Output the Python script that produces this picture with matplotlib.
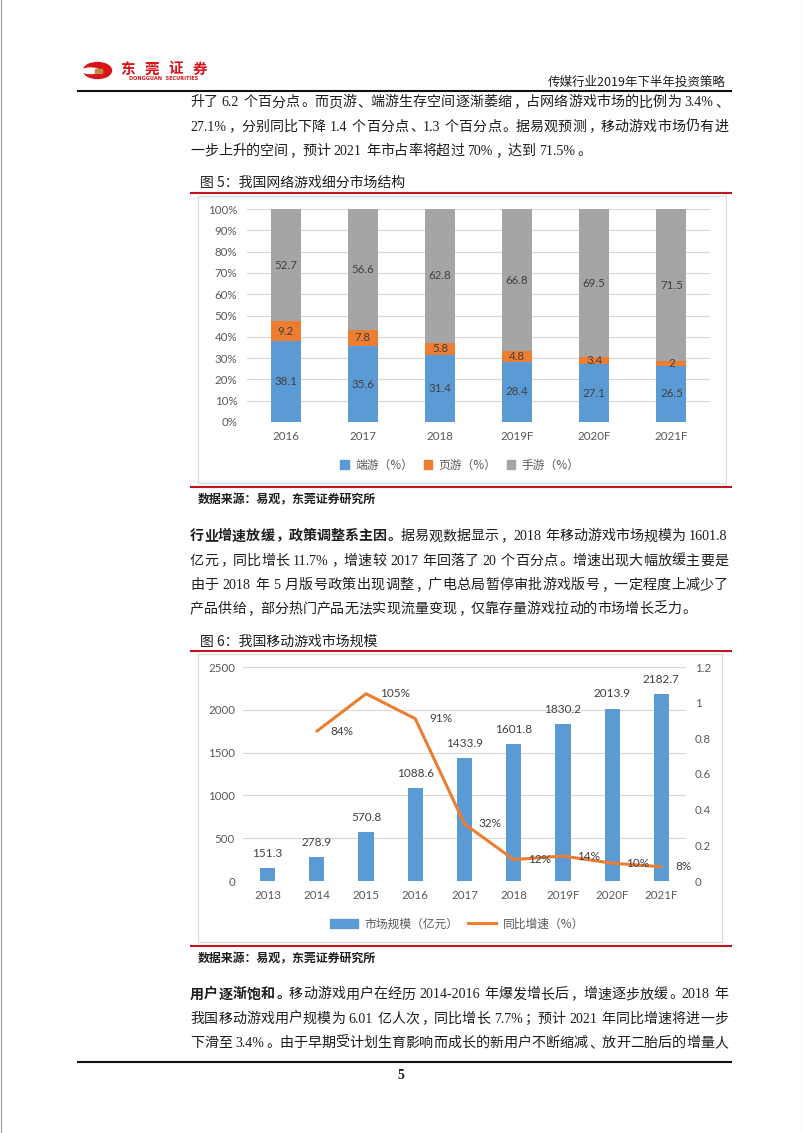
import matplotlib
matplotlib.use('Agg')
import matplotlib.pyplot as plt
import numpy as np
from matplotlib.font_manager import FontProperties
from matplotlib.patches import Rectangle, Ellipse, Patch
from matplotlib.lines import Line2D
from matplotlib.ticker import FuncFormatter

# ---------------- data ----------------
years1 = ['2016', '2017', '2018', '2019F', '2020F', '2021F']
duanyou = [38.1, 35.6, 31.4, 28.4, 27.1, 26.5]
yeyou = [9.2, 7.8, 5.8, 4.8, 3.4, 2]
shouyou = [52.7, 56.6, 62.8, 66.8, 69.5, 71.5]
legend1 = ['端游（%）', '页游（%）', '手游（%）']

years2 = ['2013', '2014', '2015', '2016', '2017', '2018', '2019F', '2020F', '2021F']
market = [151.3, 278.9, 570.8, 1088.6, 1433.9, 1601.8, 1830.2, 2013.9, 2182.7]
growth_years = ['2014', '2015', '2016', '2017', '2018', '2019F', '2020F', '2021F']
growth = [0.84, 1.05, 0.91, 0.32, 0.12, 0.14, 0.10, 0.08]
legend2 = ['市场规模（亿元）', '同比增速（%）']

para1 = [
    [("升了 6.2 个百分点。而页游、端游生存空间逐渐萎缩，占网络游戏市场的比例为 3.4%、", False)],
    [("27.1%，分别同比下降 1.4 个百分点、1.3 个百分点。据易观预测，移动游戏市场仍有进", False)],
    [("一步上升的空间，预计 2021 年市占率将超过 70%，达到 71.5%。", False)],
]
para2 = [
    [("行业增速放缓，政策调整系主因。", True), ("据易观数据显示，2018 年移动游戏市场规模为 1601.8", False)],
    [("亿元，同比增长 11.7%，增速较 2017 年回落了 20 个百分点。增速出现大幅放缓主要是", False)],
    [("由于 2018 年 5 月版号政策出现调整，广电总局暂停审批游戏版号，一定程度上减少了", False)],
    [("产品供给，部分热门产品无法实现流量变现，仅靠存量游戏拉动的市场增长乏力。", False)],
]
para3 = [
    [("用户逐渐饱和。", True), ("移动游戏用户在经历 2014-2016 年爆发增长后，增速逐步放缓。2018 年", False)],
    [("我国移动游戏用户规模为 6.01 亿人次，同比增长 7.7%；预计 2021 年同比增速将进一步", False)],
    [("下滑至 3.4%。由于早期受计划生育影响而成长的新用户不断缩减、放开二胎后的增量人", False)],
]

# ---------------- style ----------------
C_BLUE = '#5B9BD5'
C_ORANGE = '#ED7D31'
C_GRAY = '#A5A5A5'
C_RED = '#C0141E'
C_GRID = '#D9D9D9'
C_TICK = '#595959'
C_LAB = '#404040'
TXT = '#1e1e1e'
CJK = 'Noto Sans CJK SC'
SERIF = 'Liberation Serif'
NUM = 'Lato'
BODY_PT = 10.1

W, H = 802, 1133
fig = plt.figure(figsize=(W / 100, H / 100), dpi=100)
fig.patch.set_facecolor('white')
page = fig.add_axes([0, 0, 1, 1])
page.set_xlim(0, W)
page.set_ylim(H, 0)
page.axis('off')
renderer = fig.canvas.get_renderer()


def px(pt):
    return pt * 100 / 72


def hline(y, x0, x1, color, lw):
    page.plot([x0, x1], [y, y], color=color, lw=lw, solid_capstyle='butt')


def fp(latin, bold, size):
    return FontProperties(family=SERIF if latin else CJK,
                          weight='bold' if bold else 'normal', size=size)


def tokenize(segs):
    toks = []
    for s, bold in segs:
        run = ''
        for ch in s:
            if ch == ' ':
                if run:
                    toks.append((run, bold, True)); run = ''
                toks.append((' ', bold, None))
            elif ord(ch) < 128:
                run += ch
            else:
                if run:
                    toks.append((run, bold, True)); run = ''
                toks.append((ch, bold, False))
        if run:
            toks.append((run, bold, True))
    return toks


def tok_width(t, bold, latin, size):
    em = px(size)
    if latin is None:
        return 0.25 * em
    if latin is False:
        return em
    w, h, d = renderer.get_text_width_height_descent(t, fp(True, bold, size), ismath=False)
    return w + 0.04 * em


PUNCT_LEFT = '，。、；：！？'


def body_line(yc, segs, justify=True, x0=190, x1=728, size=BODY_PT):
    toks = tokenize(segs)
    ws = [tok_width(t, b, l, size) for t, b, l in toks]
    total = sum(ws)
    gap = (x1 - x0 - total) / (len(toks) - 1) if justify else 0.0
    em = px(size)
    yb = yc + 0.38 * em
    x = x0
    for (t, b, l), w in zip(toks, ws):
        if l is True:
            page.text(x, yb, t, fontproperties=fp(True, b, size), ha='left',
                      va='baseline', color=TXT)
        elif l is False:
            if t in PUNCT_LEFT:
                page.text(x + 0.1 * em, yb, t, fontproperties=fp(False, b, size),
                          ha='left', va='baseline', color=TXT)
            else:
                page.text(x + 0.5 * w, yb, t, fontproperties=fp(False, b, size),
                          ha='center', va='baseline', color=TXT)
        x += w + gap


def paragraph(y0, lines, last_justified=False, step=24.2):
    for i, segs in enumerate(lines):
        just = last_justified or i < len(lines) - 1
        body_line(y0 + i * step, segs, justify=just)


# ---------------- page frame / header ----------------
page.plot([0.5, 0.5], [0, H], color='#9a9a9a', lw=0.8)
page.plot([W - 0.5, W - 0.5], [0, H], color='#9a9a9a', lw=0.8)

page.add_patch(Ellipse((97.5, 70.5), 28, 16, color='#D7141A', zorder=3))
page.add_patch(Ellipse((90.5, 70.8), 17, 5.5, color='white', zorder=4))
page.add_patch(Rectangle((94.5, 68.6), 7, 4.2, color='#C08A3E', zorder=5))
for i, ch in enumerate('东莞证券'):
    page.text(127.5 + 24 * i, 68.5, ch, family=CJK, weight='bold', fontsize=10.5,
              color='#D7141A', ha='center', va='center')
page.text(163.5, 78, 'DONGGUAN  SECURITIES', family='DejaVu Sans', weight='bold',
          fontsize=3.6, color='#D7141A', ha='center', va='center')
page.text(726, 85.5, '传媒行业2019年下半年投资策略', family=CJK, fontsize=9,
          color=TXT, ha='right', va='baseline')
hline(90.5, 77, 732, '#111111', 1.5)

# ---------------- body text ----------------
paragraph(101, para1)
paragraph(535, para2)
paragraph(993, para3, last_justified=True)

# ---------------- figure 5 ----------------
page.text(200, 187, '图 5：我国网络游戏细分市场结构', family=CJK, fontsize=10,
          color=TXT, ha='left', va='baseline')
hline(193, 190, 732, C_RED, 1.5)
page.add_patch(Rectangle((198, 196), 528, 287, fill=False, ec=C_GRID, lw=0.8))
hline(487, 190, 732, C_RED, 1.5)
page.text(198, 503, '数据来源：易观，东莞证券研究所', family=CJK, fontsize=8.6,
          weight='bold', color=TXT, ha='left', va='baseline')


def fig_rect(l, r, t, b):
    return [l / W, 1 - b / H, (r - l) / W, (b - t) / H]


ax1 = fig.add_axes(fig_rect(247, 710, 209, 422))
ax1.set_facecolor('none')
x1 = np.arange(len(years1))
d = np.array(duanyou); y_ = np.array(yeyou); s = np.array(shouyou)
bw = 0.39
b1 = ax1.bar(x1, d, bw, color=C_BLUE, zorder=2)
b2 = ax1.bar(x1, y_, bw, bottom=d, color=C_ORANGE, zorder=2)
b3 = ax1.bar(x1, s, bw, bottom=d + y_, color=C_GRAY, zorder=2)
for c in (b1, b2, b3):
    ax1.bar_label(c, fmt='%g', label_type='center', fontsize=8.3,
                  color=C_LAB, family=NUM)
ax1.set_xlim(-0.5, len(years1) - 0.5)
ax1.set_ylim(0, 100)
ax1.set_yticks(np.arange(0, 101, 10))
ax1.yaxis.set_major_formatter(FuncFormatter(lambda v, p: f'{v:.0f}%'))
ax1.set_xticks(x1)
ax1.set_xticklabels(years1)
ax1.grid(axis='y', color=C_GRID, lw=0.8, zorder=0)
ax1.set_axisbelow(True)
for sp in ax1.spines.values():
    sp.set_visible(False)
ax1.tick_params(axis='y', length=0, pad=7, labelsize=8.3, labelcolor=C_TICK)
ax1.tick_params(axis='x', length=0, pad=6.5, labelsize=8.3, labelcolor=C_TICK)
for lab in ax1.get_xticklabels() + ax1.get_yticklabels():
    lab.set_family(NUM)
h1 = [Patch(color=C_BLUE), Patch(color=C_ORANGE), Patch(color=C_GRAY)]
fig.legend(h1, legend1, loc='center', bbox_to_anchor=(460 / W, 1 - 465 / H),
           ncol=3, frameon=False, handlelength=0.7, handleheight=0.7,
           handletextpad=0.55, columnspacing=0.9,
           prop=FontProperties(family=CJK, size=8.5), labelcolor=C_TICK)

# ---------------- figure 6 ----------------
page.text(200, 646, '图 6：我国移动游戏市场规模', family=CJK, fontsize=10,
          color=TXT, ha='left', va='baseline')
hline(650.5, 190, 732, C_RED, 1.5)
page.add_patch(Rectangle((198, 654), 524, 288, fill=False, ec=C_GRID, lw=0.8))
hline(945.5, 190, 732, C_RED, 1.5)
page.text(198, 962, '数据来源：易观，东莞证券研究所', family=CJK, fontsize=8.6,
          weight='bold', color=TXT, ha='left', va='baseline')

ax2 = fig.add_axes(fig_rect(243, 686, 667, 881))
ax2.set_facecolor('none')
x2 = np.arange(len(years2))
bars = ax2.bar(x2, market, 0.31, color=C_BLUE, zorder=2)
for xi, v in zip(x2, market):
    ax2.annotate(f'{v:.1f}', (xi, v), xytext=(0, 10.6), textcoords='offset points',
                 ha='center', va='center', fontsize=8.5, color=C_LAB, family=NUM)
ax2.set_xlim(-0.5, len(years2) - 0.5)
ax2.set_ylim(0, 2500)
ax2.set_yticks(np.arange(0, 2501, 500))
ax2.set_xticks(x2)
ax2.set_xticklabels(years2)
ax2.grid(axis='y', color=C_GRID, lw=0.8, zorder=0)
ax2.set_axisbelow(True)
for sp in ax2.spines.values():
    sp.set_visible(False)
ax2.tick_params(axis='y', length=0, pad=5.8, labelsize=8.3, labelcolor=C_TICK)
ax2.tick_params(axis='x', length=0, pad=6.5, labelsize=8.3, labelcolor=C_TICK)
for lab in ax2.get_xticklabels() + ax2.get_yticklabels():
    lab.set_family(NUM)

axr = ax2.twinx()
axr.set_facecolor('none')
gx = [years2.index(g) for g in growth_years]
axr.plot(gx, growth, color=C_ORANGE, lw=2.2, solid_joinstyle='round',
         solid_capstyle='round', zorder=3)
for xi, v in zip(gx, growth):
    axr.annotate(f'{v * 100:.0f}%', (xi, v), xytext=(10, 0), textcoords='offset points',
                 ha='left', va='center', fontsize=8.5, color=C_LAB, family=NUM)
axr.set_ylim(0, 1.2)
axr.set_yticks(np.round(np.arange(0, 1.21, 0.2), 1))
axr.yaxis.set_major_formatter(FuncFormatter(lambda v, p: f'{v:g}'))
for sp in axr.spines.values():
    sp.set_visible(False)
axr.tick_params(axis='y', length=0, pad=6.5, labelsize=8.3, labelcolor=C_TICK)
for lab in axr.get_yticklabels():
    lab.set_family(NUM)

h2 = [Patch(color=C_BLUE), Line2D([0], [0], color=C_ORANGE, lw=2.2)]
fig.legend(h2, legend2, loc='center', bbox_to_anchor=(457 / W, 1 - 924 / H),
           ncol=2, frameon=False, handlelength=2.4, handleheight=0.7,
           handletextpad=0.55, columnspacing=0.8,
           prop=FontProperties(family=CJK, size=8.5), labelcolor=C_TICK)

# ---------------- footer ----------------
hline(1062, 77, 732, '#111111', 1.5)
page.text(401, 1079, '5', family=SERIF, weight='bold', fontsize=10,
          color=TXT, ha='center', va='baseline')

fig.savefig('out.png', dpi=100, facecolor='white')
